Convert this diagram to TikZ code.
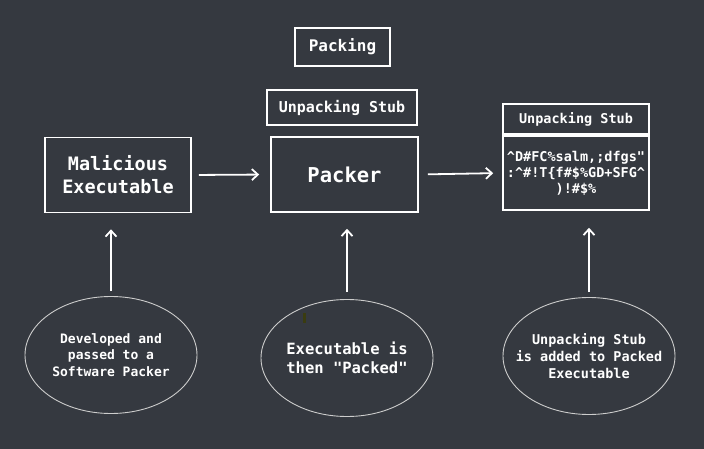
\documentclass[tikz,border=0pt]{standalone}
\usepackage{fontspec}
\setmonofont{DejaVu Sans Mono}
\usetikzlibrary{arrows.meta,shapes.geometric}
\definecolor{bg}{RGB}{53,57,64}
\definecolor{ringgray}{RGB}{205,205,205}
\definecolor{cursorolive}{RGB}{58,60,16}
\tikzset{
	box/.style={draw=white, line width=1.6pt, inner sep=0pt, text=white, align=center},
	bubble/.style={draw=ringgray, line width=0.9pt, ellipse, inner xsep=-14pt, inner ysep=-8pt, text=white, align=center, minimum width=172pt, minimum height=117pt},
	flow/.style={->, white, line width=1.8pt},
	>={Straight Barb[length=6pt,width=11pt]}
}
\begin{document}
\begin{tikzpicture}[x=1pt,y=-1pt]
	\fill[bg] (0,0) rectangle (704,449);
	\useasboundingbox (0,0) rectangle (704,449);

	\node [box, minimum width=95pt, minimum height=38pt, font=\ttfamily\bfseries\fontsize{16}{18}\selectfont] (packing) at (342.5,47) {Packing};
	\node [box, minimum width=150pt, minimum height=35pt, font=\ttfamily\bfseries\fontsize{15}{18}\selectfont] (stubtop) at (342,107.5) {Unpacking Stub};

	\node [box, minimum width=146pt, minimum height=75pt, font=\ttfamily\bfseries\fontsize{18.5}{23}\selectfont] (malware) at (118,175) {Malicious\\Executable};
	\node [box, minimum width=147pt, minimum height=75pt, font=\ttfamily\bfseries\fontsize{20.5}{24}\selectfont] (packer) at (344.5,174.5) {Packer};

	\node [box, minimum width=146pt, minimum height=30pt, font=\ttfamily\bfseries\fontsize{13.5}{16}\selectfont] (stub) at (576,119) {Unpacking Stub};
	\node [box, minimum width=146pt, minimum height=74pt, font=\ttfamily\bfseries\fontsize{13.5}{16}\selectfont] (payload) at (576,173) {\string^D\#FC\%salm,;dfgs"\\:\string^\#!T\{f\#\$\%GD+SFG\string^\\)!\#\$\%};

	\draw [flow, shorten <=7pt, shorten >=11pt] (malware.east) -- (packer.west);
	\draw [flow, shorten <=9pt, shorten >=9pt] (packer.east) -- (payload.west);

	\node [bubble, font=\ttfamily\bfseries\fontsize{13}{16.5}\selectfont] (devnote) at (111,355) {Developed and\\passed to a\\Software Packer};
	\node [bubble, font=\ttfamily\bfseries\fontsize{15.5}{19}\selectfont] (packnote) at (347,358) {Executable is\\then "Packed"};
	\node [bubble, font=\ttfamily\bfseries\fontsize{13.5}{17}\selectfont] (stubnote) at (589,356) {Unpacking Stub\\is added to Packed\\Executable};

	\draw [flow, shorten <=5pt, shorten >=16pt] (devnote.north) -- (devnote.north |- malware.south);
	\draw [flow, shorten <=7pt, shorten >=16pt] (packnote.north) -- (packnote.north |- packer.south);
	\draw [flow, shorten <=5pt, shorten >=17pt] (stubnote.north) -- (stubnote.north |- payload.south);

	\fill [cursorolive] (303,313) rectangle (305.5,323);
\end{tikzpicture}
\end{document}
